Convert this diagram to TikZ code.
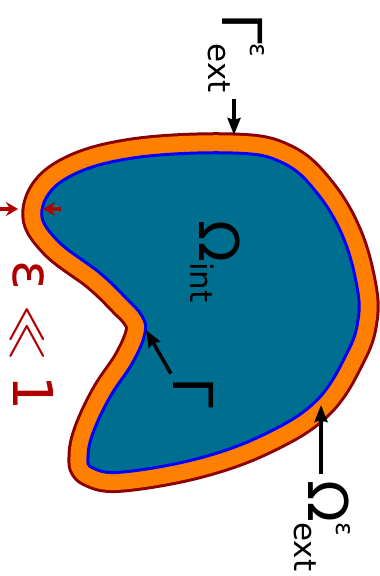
\RequirePackage{fix-cm}
\documentclass[tikz,border=0pt]{standalone}
\usepackage{fontspec}
\setmainfont{DejaVu Sans}
\usepackage{amsmath}
\DeclareMathSizes{55}{55}{31}{24}
\usetikzlibrary{arrows.meta}
\definecolor{bandorange}{RGB}{255,127,0}
\definecolor{bandred}{RGB}{139,0,0}
\definecolor{domteal}{RGB}{0,111,143}
\definecolor{epsred}{RGB}{175,0,0}
\newcommand{\supeps}{\text{\fontsize{25}{25}\selectfont ε}}
\tikzset{
  % Base styles
  fig base/.style={
    x=1pt, y=-1pt,
    every node/.style={inner sep=0pt, font=\fontsize{55}{60}\selectfont},
  },
  % Rotated labels
  vlabel/.style={rotate=-90, anchor=base west},
  % Connectors
  label arrow/.style={line width=3.5pt, -{Stealth[length=17pt, width=13pt, inset=2pt]}},
  eps arrow/.style={line width=3.5pt, epsred, -{Stealth[length=12pt, width=14pt, inset=4pt]}},
}
% Inner domain boundary
\def\innershape{plot[smooth cycle, tension=0.65] coordinates {
  (42,210) (67,178) (133,158) (233,153) (283,163) (317,193) (343,237)
  (357,287) (358,320) (347,353) (317,400) (267,433) (200,458) (123,472)
  (93,468) (88,457) (93,433) (110,397) (133,362) (145,333) (142,316)
  (126,298) (100,273) (57,240)}}

\begin{document}
\begin{tikzpicture}[fig base]
\useasboundingbox (0,0) rectangle (380,576);

% Exterior band (offset of the inner boundary)
\draw[bandred, line width=41pt, line join=round] \innershape;
\draw[bandorange, line width=35pt, line join=round] \innershape;
% Interior domain
\filldraw[fill=domteal, draw=blue, line width=3pt] \innershape;

% Labels
\node[vlabel] (Gext) at (222,13) {$\text{Γ}^{\supeps}_{\text{ext}}$};
\node[vlabel] (Oint) at (199,220) {$\text{Ω}_{\text{int}}$};
\node[vlabel] (G) at (173,377) {Γ};
\node[vlabel] (Oext) at (308,480) {$\text{Ω}^{\supeps}_{\text{ext}}$};
\node[vlabel, text=epsred] (eps) at (13,260) {ε$\;\ll\;$1};

% Arrow tips on the boundaries
\coordinate (tipGext) at (234,135);
\coordinate (tipG) at (146,330);
\coordinate (tipOext) at (321,405);
\coordinate (epsL) at (0,209);
\coordinate (epsLtip) at (18,209);
\coordinate (epsR) at (61,209);
\coordinate (epsRtip) at (43,209);

% Connectors
\draw[label arrow, shorten <=5pt] (Gext.east -| tipGext) -- (tipGext);
\draw[label arrow, shorten <=4pt] (G.south west) -- (tipG);
\draw[label arrow, shorten <=6pt] (Oext.west -| tipOext) -- (tipOext);
\draw[eps arrow] (epsL) -- (epsLtip);
\draw[eps arrow] (epsR) -- (epsRtip);
\end{tikzpicture}
\end{document}
